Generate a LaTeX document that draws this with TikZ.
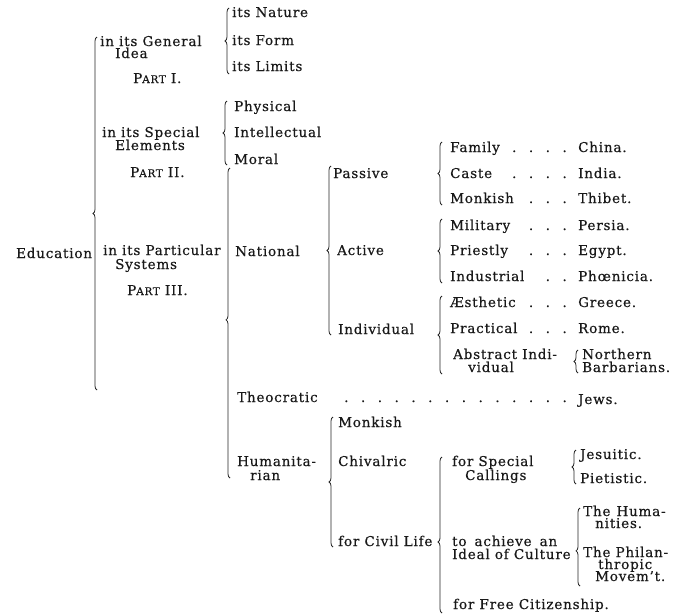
\documentclass[tikz,border=0pt]{standalone}
\usepackage{fontspec}
\setmainfont{DejaVu Serif}[LetterSpace=6,FakeBold=0.4]
\usetikzlibrary{decorations.pathreplacing}
\newcommand\dsep{\hspace{12.5pt}}
\newcommand\pcaps[1]{{\fontsize{10.5}{12}\selectfont #1}}
\newcommand\bracedraw[5]{%
  \coordinate (#1t) at (#2+2,#3);
  \coordinate (#1b) at (#2+2,#4);
  \draw[brc,decoration={brace,amplitude=4pt,aspect=#5}] (#1b) -- (#1t);}
\begin{document}
\begin{tikzpicture}[x=1pt,y=-1pt,
  txt/.style={anchor=base west, inner sep=0pt, font=\fontsize{13.5}{15}\selectfont, text=black!90},
  dts/.style={anchor=base east, inner sep=0pt, font=\fontsize{13.5}{15}\selectfont, text=black!90},
  brc/.style={draw=black!85, line width=0.8pt, decorate}]
\fill[white] (0,0) rectangle (673,616);
\useasboundingbox (0,0) rectangle (673,616);

% column 0
\node[txt] (edu) at (16,258) {Education};

% column 1
\node[txt] (gen) at (100,46) {in its General};
\node[txt] (gen2) at (115,58) {Idea};
\node[txt] (p1) at (133,83) {P\pcaps{ART} I.};
\node[txt] (spe) at (102,137) {in its Special};
\node[txt] (spe2) at (115,150) {Elements};
\node[txt] (p2) at (130,177) {P\pcaps{ART} II.};
\node[txt] (par) at (103,255) {in its Particular};
\node[txt] (par2) at (115,269) {Systems};
\node[txt] (p3) at (127,295) {P\pcaps{ART} III.};

% column 2
\node[txt] (nat) at (232,17) {its Nature};
\node[txt] (frm) at (232,45) {its Form};
\node[txt] (lim) at (232,71) {its Limits};
\node[txt] (phy) at (234,111) {Physical};
\node[txt] (int) at (234,137) {Intellectual};
\node[txt] (mor) at (234,164) {Moral};
\node[txt] (natl) at (235,256) {National};
\node[txt] (theo) at (237,402) {Theocratic};
\node[txt] (hum) at (237,466) {Humanita-};
\node[txt] (hum2) at (250,480) {rian};

% column 3
\node[txt] (pas) at (333,178) {Passive};
\node[txt] (act) at (337,255) {Active};
\node[txt] (ind) at (338,334) {Individual};
\node[txt] (monk) at (338,427) {Monkish};
\node[txt] (chiv) at (338,466) {Chivalric};
\node[txt] (civ) at (338,546) {for Civil Life};

% column 4
\node[txt] (fam) at (450,152) {Family};
\node[txt] (cas) at (450,178) {Caste};
\node[txt] (mon) at (450,203) {Monkish};
\node[txt] (mil) at (450,230) {Military};
\node[txt] (pri) at (450,255) {Priestly};
\node[txt] (indu) at (450,281) {Industrial};
\node[txt] (aes) at (450,307) {Æsthetic};
\node[txt] (pra) at (450,333) {Practical};
\node[txt] (abs) at (453,359) {Abstract Indi-};
\node[txt] (abs2) at (468,372) {vidual};
\node[txt] (spc) at (452,466) {for Special};
\node[txt] (spc2) at (465,480) {Callings};
\node[txt] (ach) at (452,546) {to\hspace{8pt}achieve\hspace{8pt}an};
\node[txt] (ach2) at (452,559) {Ideal of Culture};
\node[txt] (fre) at (453,609) {for Free Citizenship.};

% dots
\node[dts] (dfam) at (567,152) {.\dsep.\dsep.\dsep.};
\node[dts] (dcas) at (567,178) {.\dsep.\dsep.\dsep.};
\node[dts] (dmon) at (567,203) {.\dsep.\dsep.};
\node[dts] (dmil) at (567,230) {.\dsep.\dsep.};
\node[dts] (dpri) at (567,255) {.\dsep.\dsep.};
\node[dts] (dind) at (567,281) {.\dsep.};
\node[dts] (daes) at (567,307) {.\dsep.\dsep.};
\node[dts] (dpra) at (567,333) {.\dsep.\dsep.};
\node[dts] (dtheo) at (567,402) {.\dsep.\dsep.\dsep.\dsep.\dsep.\dsep.\dsep.\dsep.\dsep.\dsep.\dsep.\dsep.\dsep.};

% column 5
\node[txt] (chi) at (578,152) {China.};
\node[txt] (ida) at (578,178) {India.};
\node[txt] (thi) at (578,203) {Thibet.};
\node[txt] (per) at (578,230) {Persia.};
\node[txt] (egy) at (578,255) {Egypt.};
\node[txt] (pho) at (578,281) {Phœnicia.};
\node[txt] (gre) at (578,307) {Greece.};
\node[txt] (rom) at (578,333) {Rome.};
\node[txt] (nor) at (582,359) {Northern};
\node[txt] (nor2) at (582,372) {Barbarians.};
\node[txt] (jew) at (578,404) {Jews.};
\node[txt] (jes) at (580,459) {Jesuitic.};
\node[txt] (pie) at (580,483) {Pietistic.};
\node[txt] (hu) at (583,516) {The\hspace{6pt}Huma-};
\node[txt] (hu2) at (595,528) {nities.};
\node[txt] (phi) at (583,557) {The Philan-};
\node[txt] (phi2) at (598,569) {thropic};
\node[txt] (phi3) at (595,581) {Movem't.};

% braces
\bracedraw{b1}{95}{37}{390}{0.5}
\bracedraw{b2}{227}{8}{74}{0.5}
\bracedraw{b3}{225}{101}{165}{0.5}
\bracedraw{b4}{228}{168}{478}{0.51}
\bracedraw{b5}{329}{166}{335}{0.5}
\bracedraw{b6}{440}{142}{205}{0.5}
\bracedraw{b7}{440}{219}{283}{0.5}
\bracedraw{b8}{440}{296}{374}{0.5}
\bracedraw{b9}{576}{350}{373}{0.5}
\bracedraw{b10}{331}{417}{547}{0.5}
\bracedraw{b11}{440}{457}{613}{0.455}
\bracedraw{b12}{574}{450}{484}{0.5}
\bracedraw{b13}{578}{508}{586}{0.45}
\end{tikzpicture}
\end{document}
